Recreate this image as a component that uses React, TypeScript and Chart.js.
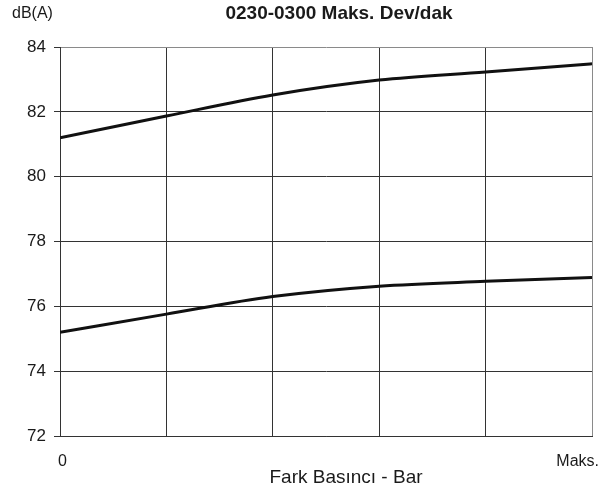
import React, { useEffect, useRef } from 'react';
import { Chart, registerables } from 'chart.js';

Chart.register(...registerables);

const xPositions = [0, 1, 2, 3, 4, 5];
const xTickLabels = ['0', '', '', '', '', 'Maks.'];
const upperCurve = [81.2, 81.87, 82.52, 82.98, 83.23, 83.48];
const lowerCurve = [75.2, 75.76, 76.3, 76.62, 76.77, 76.89];
const yMin = 72;
const yMax = 84;
const yStep = 2;
const chartTitle = '0230-0300 Maks. Dev/dak';
const yUnit = 'dB(A)';
const xTitle = 'Fark Basıncı - Bar';

const FONT = "'Liberation Sans', Arial, Helvetica, sans-serif";

const textPlugin = {
  id: 'extraTexts',
  afterDraw(chart: any) {
    const { ctx } = chart;
    const xs = chart.scales.x;
    ctx.save();
    ctx.fillStyle = '#1a1a1a';
    ctx.textBaseline = 'middle';
    ctx.font = `bold 19px ${FONT}`;
    ctx.textAlign = 'center';
    ctx.fillText(chartTitle, 339, 14);
    ctx.font = `16px ${FONT}`;
    ctx.textAlign = 'left';
    ctx.fillText(yUnit, 12, 14);
    // x tick labels (first left-aligned, last right-aligned with small overhang)
    ctx.font = `16px ${FONT}`;
    const labelY = xs.bottom - xs.height + 26;
    xTickLabels.forEach((lab, i) => {
      if (!lab) return;
      const px = xs.getPixelForValue(xPositions[i]);
      if (i === 0) {
        ctx.textAlign = 'left';
        ctx.fillText(lab, px - 2, labelY);
      } else if (i === xTickLabels.length - 1) {
        ctx.textAlign = 'right';
        ctx.fillText(lab, px + 7, labelY);
      } else {
        ctx.textAlign = 'center';
        ctx.fillText(lab, px, labelY);
      }
    });
    ctx.font = `19px ${FONT}`;
    ctx.textAlign = 'center';
    ctx.fillText(xTitle, 346, 478);
    ctx.restore();
  },
};

export default function App() {
  const ref = useRef<HTMLCanvasElement | null>(null);
  useEffect(() => {
    document.body.style.margin = '0';
    const canvas = ref.current;
    if (!canvas) return;
    const toXY = (arr: number[]) => arr.map((y, i) => ({ x: xPositions[i], y }));
    const chart = new Chart(canvas, {
      type: 'line',
      data: {
        datasets: [
          {
            label: 'upper',
            data: toXY(upperCurve),
            borderColor: '#111111',
            borderWidth: 3,
            pointRadius: 0,
            cubicInterpolationMode: 'monotone',
            fill: false,
          },
          {
            label: 'lower',
            data: toXY(lowerCurve),
            borderColor: '#111111',
            borderWidth: 3,
            pointRadius: 0,
            cubicInterpolationMode: 'monotone',
            fill: false,
          },
        ],
      },
      options: {
        animation: false,
        responsive: false,
        devicePixelRatio: 1,
        layout: { padding: { top: 47, right: 13, left: 0, bottom: 0 } },
        plugins: {
          legend: { display: false },
          title: { display: false },
          tooltip: { enabled: false },
        },
        scales: {
          x: {
            type: 'linear',
            min: 0,
            max: 5,
            afterFit: (s: any) => {
              s.height = 57;
            },
            border: { display: true, color: '#333333', width: 1 },
            grid: {
              drawTicks: false,
              color: (c: any) => (c.tick && c.tick.value === 5 ? '#8a8a8a' : '#333333'),
              lineWidth: 1,
            },
            ticks: {
              stepSize: 1,
              display: false,
            },
          },
          y: {
            min: yMin,
            max: yMax,
            afterFit: (s: any) => {
              s.width = 60;
            },
            border: { display: true, color: '#333333', width: 1 },
            grid: {
              drawTicks: true,
              tickLength: 6,
              color: (c: any) => (c.tick && c.tick.value === yMax ? '#8a8a8a' : '#333333'),
              tickColor: '#333333',
              lineWidth: 1,
            },
            ticks: {
              stepSize: yStep,
              padding: 8,
              color: '#1a1a1a',
              font: { family: FONT, size: 17 },
            },
          },
        },
      },
      plugins: [textPlugin],
    } as any);
    return () => chart.destroy();
  }, []);
  return (
    <div style={{ width: 605, height: 493 }}>
      <canvas ref={ref} width={605} height={493} style={{ display: 'block' }} />
    </div>
  );
}
